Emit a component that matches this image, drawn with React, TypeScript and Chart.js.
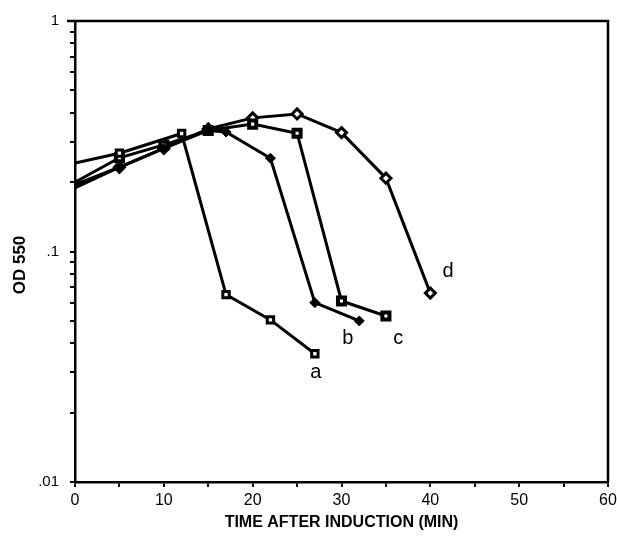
import React, { useEffect, useRef } from "react";
import { Chart, registerables } from "chart.js";

Chart.register(...registerables);

// Series data: time (min) and OD 550
const aX = [0, 5, 12, 17, 22, 27];
const aY = [0.242, 0.267, 0.325, 0.065, 0.0505, 0.036];
const bX = [0, 5, 10, 15, 17, 22, 27, 32];
const bY = [0.189, 0.232, 0.28, 0.335, 0.33, 0.254, 0.06, 0.05];
const cX = [0, 5, 10, 15, 20, 25, 30, 35];
const cY = [0.2, 0.255, 0.29, 0.335, 0.357, 0.326, 0.061, 0.0525];
const dX = [0, 5, 10, 15, 20, 25, 30, 35, 40];
const dY = [0.195, 0.232, 0.28, 0.34, 0.38, 0.395, 0.328, 0.208, 0.066];

// Curve labels
const labelText = ["a", "b", "c", "d"];
const labelX = [27.1, 30.7, 36.4, 42.0];
const labelY = [0.03, 0.042, 0.042, 0.0815];

// Axis ticks
const yTickValues = [0.01, 0.02, 0.03, 0.04, 0.05, 0.06, 0.07, 0.08, 0.09, 0.1, 0.2, 0.3, 0.4, 0.5, 0.6, 0.7, 0.8, 0.9, 1];
const yTickLabels: Record<string, string> = { "0.01": ".01", "0.1": ".1", "1": "1" };
const xTitle = "TIME AFTER INDUCTION (MIN)";
const yTitle = "OD 550";

const FONT = "'Liberation Sans', Arial, Helvetica, sans-serif";

function toPts(xs: number[], ys: number[]) {
  return xs.map((x, i) => ({ x, y: ys[i] }));
}
function radii(xs: number[], r: number) {
  return xs.map((x) => (x === 0 ? 0 : r));
}

const decorPlugin = {
  id: "decor",
  afterDatasetsDraw(chart: any) {
    const { ctx, chartArea, scales } = chart;
    ctx.save();
    // top and right frame
    ctx.strokeStyle = "#000";
    ctx.lineWidth = 2.5;
    ctx.beginPath();
    ctx.moveTo(chartArea.left - 8, chartArea.top);
    ctx.lineTo(chartArea.right, chartArea.top);
    ctx.lineTo(chartArea.right, chartArea.bottom);
    ctx.stroke();
    // curve labels
    ctx.fillStyle = "#000";
    ctx.font = `20px ${FONT}`;
    ctx.textAlign = "center";
    ctx.textBaseline = "middle";
    labelText.forEach((t, i) => {
      ctx.fillText(t, scales.x.getPixelForValue(labelX[i]), scales.y.getPixelForValue(labelY[i]));
    });
    ctx.restore();
  },
  afterDraw(chart: any) {
    const { ctx } = chart;
    ctx.save();
    ctx.fillStyle = "#000";
    ctx.font = `bold 17px ${FONT}`;
    ctx.textAlign = "center";
    ctx.textBaseline = "middle";
    ctx.translate(20, 265);
    ctx.rotate(-Math.PI / 2);
    ctx.fillText(yTitle, 0, 0);
    ctx.restore();
  },
};

export default function App() {
  const ref = useRef<HTMLCanvasElement>(null);
  useEffect(() => {
    if (!ref.current) return;
    const common = { borderColor: "#000", borderWidth: 3, showLine: true, pointBorderColor: "#000" };
    const chart = new Chart(ref.current, {
      type: "scatter",
      data: {
        datasets: [
          { ...common, label: "a", data: toPts(aX, aY), pointStyle: "rect", pointRadius: radii(aX, 4.5), pointBackgroundColor: "#fff", pointBorderWidth: 3 },
          { ...common, label: "b", data: toPts(bX, bY), pointStyle: "rectRot", pointRadius: radii(bX, 5), pointBackgroundColor: "#000", pointBorderWidth: 1 },
          { ...common, label: "c", data: toPts(cX, cY), pointStyle: "rect", pointRadius: radii(cX, 5), pointBackgroundColor: "#fff", pointBorderWidth: 4 },
          { ...common, label: "d", data: toPts(dX, dY), pointStyle: "rectRot", pointRadius: radii(dX, 5), pointBackgroundColor: "#fff", pointBorderWidth: 3 },
        ] as any,
      },
      options: {
        animation: false,
        responsive: false,
        maintainAspectRatio: false,
        layout: { padding: { top: 21, right: 9, left: 0, bottom: 0 } },
        plugins: { legend: { display: false }, tooltip: { enabled: false } },
        scales: {
          x: {
            type: "linear",
            min: 0,
            max: 60,
            afterFit: (s: any) => { s.height = 61; s.paddingLeft = 0; s.paddingRight = 0; },
            ticks: {
              stepSize: 5,
              autoSkip: false,
              maxRotation: 0,
              padding: 4,
              color: "#000",
              font: { family: FONT, size: 16 },
              callback: (v: any) => (Number(v) % 10 === 0 ? String(v) : ""),
            },
            grid: { display: true, drawOnChartArea: false, drawTicks: true, tickLength: 5, color: "#000", lineWidth: 2 },
            border: { display: true, color: "#000", width: 2.5 },
            title: { display: true, text: xTitle, color: "#000", font: { family: FONT, size: 16, weight: "bold" }, padding: { top: 4, bottom: 11 } },
          },
          y: {
            type: "logarithmic",
            min: 0.01,
            max: 1,
            afterFit: (s: any) => { s.width = 75; s.paddingTop = 0; s.paddingBottom = 0; },
            afterBuildTicks: (s: any) => { s.ticks = yTickValues.map((v) => ({ value: v })); },
            ticks: {
              autoSkip: false,
              padding: 11,
              color: "#000",
              font: { family: FONT, size: 15 },
              callback: (v: any) => yTickLabels[String(v)] ?? "",
            },
            grid: { display: true, drawOnChartArea: false, drawTicks: true, tickLength: 5, color: "#000", lineWidth: 2 },
            border: { display: true, color: "#000", width: 2.5 },
          },
        },
      } as any,
      plugins: [decorPlugin],
    });
    return () => chart.destroy();
  }, []);
  return (
    <div style={{ position: "fixed", left: 0, top: 0, width: 617, height: 543, background: "#fff" }}>
      <canvas ref={ref} width={617} height={543} style={{ width: 617, height: 543, display: "block" }} />
    </div>
  );
}
